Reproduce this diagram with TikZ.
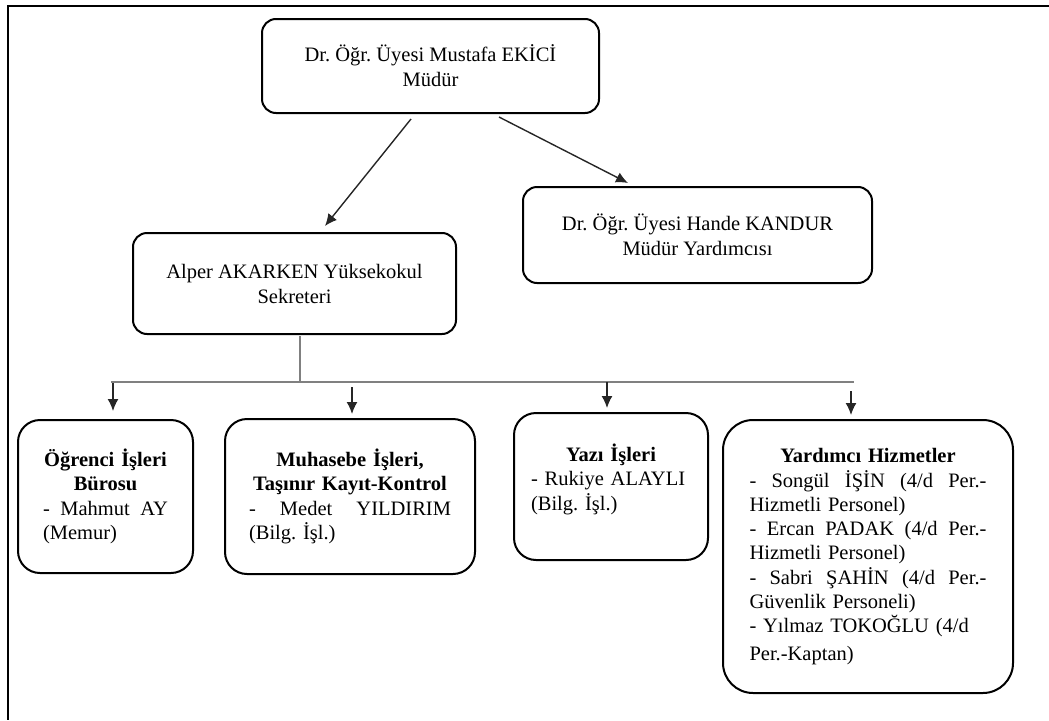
\documentclass[tikz,border=0pt]{standalone}
\usepackage{fontspec}
\setmainfont{Liberation Serif}
\usetikzlibrary{arrows.meta}
\newcommand{\jline}[1]{{\spaceskip=0pt\xspaceskip=0pt\makebox[\hsize][s]{#1}}}
\frenchspacing

\begin{document}
\begin{tikzpicture}[x=1pt,y=-1pt,
	kutu/.style={draw, line width=2pt, rounded corners=14pt, inner sep=0pt, align=center, font=\fontsize{20.5}{25}\selectfont},
	birim/.style={draw, line width=2pt, rounded corners=22pt, inner sep=0pt, align=left, font=\fontsize{20.5}{24.3}\selectfont},
	ok/.style={-{Latex[length=12pt,width=11pt]}, line width=1.4pt, black!85},
	hat/.style={line width=1.8pt, black!50}]
			%%%%% START %%%%%
			
			\useasboundingbox (0,0) rectangle (1049,720);
			\draw[line width=2pt] (1049,6) -- (8,6) -- (8,720);
			
			\node[kutu, minimum width=337pt, minimum height=94pt] (mudur) at (430.5,66) {Dr. Öğr. Üyesi Mustafa EKİCİ\\Müdür};
			\node[kutu, minimum width=349pt, minimum height=96pt] (hande) at (697.5,235) {Dr. Öğr. Üyesi Hande KANDUR\\Müdür Yardımcısı};
			\node[kutu, minimum width=323pt, minimum height=101pt] (alper) at (294.5,283.5) {Alper AKARKEN Yüksekokul\\Sekreteri};
			
			\draw[ok] ([xshift=-19.5pt,yshift=-5pt]mudur.south) -- ([xshift=30.5pt,yshift=6pt]alper.north);
			\draw[ok] ([xshift=68.5pt,yshift=-3pt]mudur.south) -- ([xshift=-69.5pt,yshift=3pt]hande.north);
			
			\node[birim, text width=125pt, minimum width=175pt, minimum height=153pt] (ogrenci) at (105.5,496.5) {\centering\textbf{Öğrenci İşleri}\\\textbf{Bürosu}\par\raggedright\jline{- Mahmut AY}\\(Memur)};
			\node[birim, text width=202pt, minimum width=250pt, minimum height=155pt] (muhasebe) at (350,496.5) {\centering\textbf{Muhasebe İşleri,}\\\textbf{Taşınır Kayıt-Kontrol}\par\raggedright\jline{- Medet YILDIRIM}\\(Bilg. İşl.)};
			\node[birim, text width=160pt, minimum width=194pt, minimum height=147pt] (yazi) at (611,486.5) {\centering\textbf{Yazı İşleri}\par\raggedright - Rukiye ALAYLI\\(Bilg. İşl.)\rule[-19pt]{0pt}{0pt}};
			\node[birim, rounded corners=30pt, text width=237pt, minimum width=290pt, minimum height=273pt] (yardimci) at (868,556.5) {\centering\textbf{Yardımcı Hizmetler}\par\raggedright
				\jline{- Songül İŞİN (4/d Per.-}\\Hizmetli Personel)\\
				\jline{- Ercan PADAK (4/d Per.-}\\Hizmetli Personel)\\
				\jline{- Sabri ŞAHİN (4/d Per.-}\\Güvenlik Personeli)\\
				- Yılmaz TOKOĞLU (4/d\\[3pt]Per.-Kaptan)};
			
			\coordinate (kavsak) at (300,382);
			\coordinate (bassol) at (111,382);
			\coordinate (bassag) at (854,382);
			\draw[hat] ([xshift=5.5pt,yshift=-1pt]alper.south) -- (kavsak);
			\draw[hat] (bassol) -- (bassag);
			
			\draw[ok] ([xshift=7.5pt,yshift=36pt]ogrenci.north) -- ([xshift=7.5pt,yshift=8pt]ogrenci.north);
			\draw[ok] ([xshift=2pt,yshift=31pt]muhasebe.north) -- ([xshift=2pt,yshift=4pt]muhasebe.north);
			\draw[ok] ([xshift=-4pt,yshift=30pt]yazi.north) -- ([xshift=-4pt,yshift=4pt]yazi.north);
			\draw[ok] ([xshift=-17pt,yshift=28pt]yardimci.north) -- ([xshift=-17pt,yshift=4pt]yardimci.north);
			
			%%%%% END %%%%%
		\end{tikzpicture}
\end{document}
